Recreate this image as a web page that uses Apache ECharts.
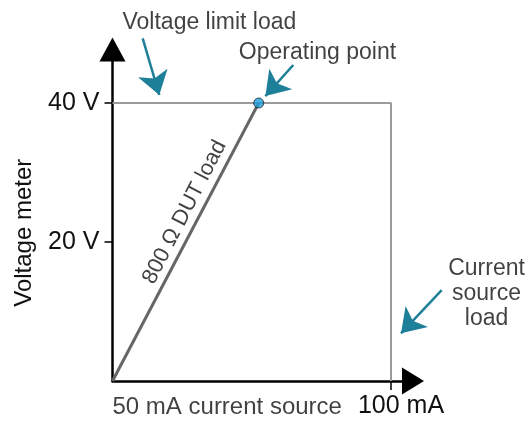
<!DOCTYPE html>
<html><head><meta charset="utf-8">
<script src="https://cdn.jsdelivr.net/npm/echarts@6/dist/echarts.min.js"></script>
<style>html,body{margin:0;padding:0;background:#fff}#c{width:529px;height:422px}</style>
</head><body><div id="c"></div>
<script>
// ---- data ----
const dutCurrent = [0, 52.5];        // mA
const dutVoltage = [0, 40];          // V
const limitCurrent = [0, 100, 100];  // mA
const limitVoltage = [40, 40, 0];    // V
const operatingPoint = [52.5, 40];
const xTickValues = [100];
const xTickLabels = ['100 mA'];
const yTickValues = [20, 40];
const yTickLabels = ['20 V', '40 V'];
const yAxisName = 'Voltage meter';
const annotationTexts = ['Voltage limit load', 'Operating point', 'Current\nsource\nload', '50 mA current source'];
const dutLabel = '800 Ω DUT load';

// ---- layout / annotation placement (data space) ----
const annotPos = [[34.8, 51.6], [73.6, 47.3], [134.3, 12.6], [0, -3.8]];
const arrowPos = [
  [[10.84, 49.31], [16.8, 41.15]],
  [[64.9, 45.47], [54.9, 41.0]],
  [[118.2, 13.09], [103.6, 6.86]]
];
const dutLabelPos = [25.9, 24.3];

const FONT = 'Liberation Sans, Arial, sans-serif';
const chart = echarts.init(document.getElementById('c'));
const teal = '#1e7f98';
const TXT = '#111';

chart.setOption({
  animation: false,
  grid: { left: 112.5, top: 49.5, width: 300.5, height: 331.5, containLabel: false, outerBoundsMode: 'none' },
  xAxis: {
    type: 'value', min: 0, max: 107.9,
    splitLine: { show: false },
    axisLine: { lineStyle: { color: '#000', width: 2.5 }, symbol: ['none', 'triangle'], symbolSize: [27, 22] },
    axisTick: { show: true, customValues: xTickValues, length: 9, lineStyle: { color: '#000', width: 1.5 } },
    axisLabel: {
      customValues: xTickValues,
      formatter: v => xTickLabels[xTickValues.indexOf(v)] || '',
      color: TXT, fontSize: 25, fontFamily: FONT, margin: 13, padding: [0, 0, 0, 20]
    }
  },
  yAxis: {
    type: 'value', min: 0, max: 47.7,
    splitLine: { show: false },
    name: yAxisName, nameLocation: 'middle', nameRotate: 90, nameGap: 76,
    nameTextStyle: { color: TXT, fontSize: 24, fontFamily: FONT, padding: [0, 35, 0, 0] },
    axisLine: { lineStyle: { color: '#000', width: 2.5 }, symbol: ['none', 'triangle'], symbolSize: [26, 24] },
    axisTick: { show: true, customValues: yTickValues, length: 8, lineStyle: { color: '#000', width: 1.5 } },
    axisLabel: {
      customValues: yTickValues,
      formatter: v => yTickLabels[yTickValues.indexOf(v)] || '',
      color: TXT, fontSize: 25, fontFamily: FONT, margin: 13
    }
  },
  series: [
    {
      type: 'line', data: limitCurrent.map((x, i) => [x, limitVoltage[i]]),
      symbol: 'none', lineStyle: { color: '#9a9a9a', width: 2 }, z: 2, clip: false
    },
    {
      type: 'line', data: dutCurrent.map((x, i) => [x, dutVoltage[i]]),
      symbol: 'none', lineStyle: { color: '#666', width: 3 }, z: 3, clip: false
    },
    {
      type: 'scatter', data: [operatingPoint], symbolSize: 10, z: 5,
      itemStyle: { color: '#1ba0de', borderColor: '#222', borderWidth: 1 }
    },
    {
      type: 'scatter', symbolSize: 0, clip: false, z: 6,
      data: annotationTexts.map((t, i) => ({
        value: annotPos[i],
        label: {
          show: true, formatter: t, position: 'inside',
          align: i === 3 ? 'left' : 'center',
          color: TXT, fontSize: i === 3 ? 24 : 23, fontFamily: FONT, lineHeight: 25
        }
      })).concat([{
        value: dutLabelPos,
        label: {
          show: true, formatter: dutLabel, position: 'inside', rotate: 62.7,
          color: TXT, fontSize: 22, fontFamily: FONT
        }
      }])
    },
    {
      type: 'lines', coordinateSystem: 'cartesian2d', clip: false, z: 6, silent: true,
      symbol: ['none', 'arrow'], symbolSize: [17, 23],
      lineStyle: { color: teal, width: 2.5, opacity: 1 },
      data: arrowPos.map(p => ({ coords: [p[0], p[1]] }))
    }
  ]
});
</script>
</body></html>
